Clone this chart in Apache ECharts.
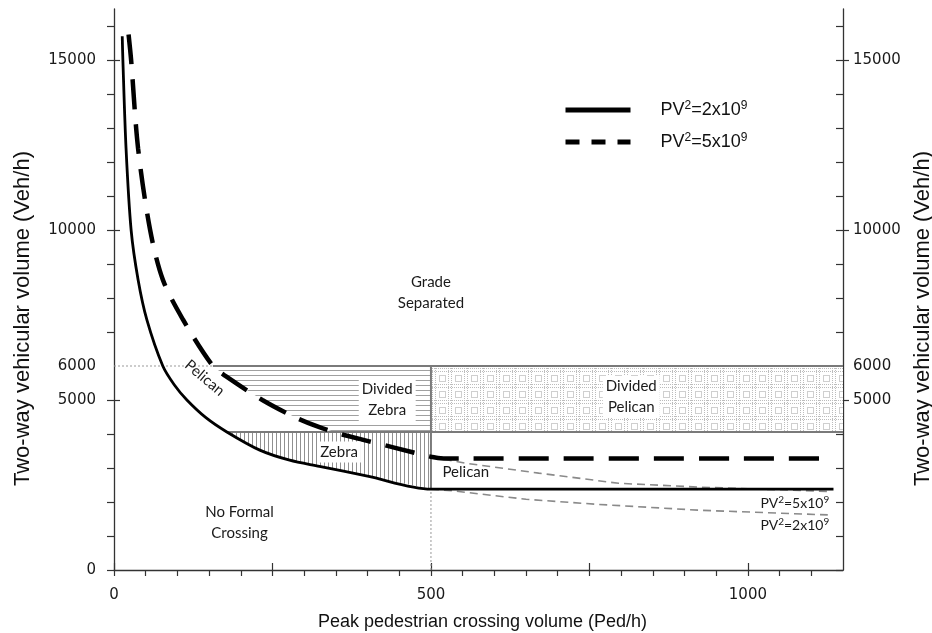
<!DOCTYPE html>
<html>
<head>
<meta charset="utf-8">
<script src="https://cdn.jsdelivr.net/npm/echarts@6/dist/echarts.min.js"></script>
<style>
  html, body { margin: 0; padding: 0; background: #fff; }
  #chart { width: 932px; height: 633px; }
</style>
</head>
<body>
<div id="chart"></div>
<script>
// curve PV^2 = 2x10^9 (solid)
var solidP = [13, 14, 19, 27, 38, 52, 77, 95, 115, 145, 178, 230, 277, 324, 400, 500, 1135];
var solidV = [15700, 15000, 12400, 10000, 8540, 7350, 6000, 5450, 5000, 4480, 4060, 3525, 3230, 3050, 2760, 2380, 2380];

// curve PV^2 = 5x10^9 (thick dashed)
var dashP = [23, 27, 38, 57, 77, 109, 156, 178, 234, 287, 324, 348, 363, 442, 500, 520, 1135];
var dashV = [15750, 15000, 12400, 10000, 8540, 7360, 6000, 5680, 5000, 4480, 4200, 4060, 3970, 3600, 3330, 3280, 3280];

// thin grey continuations beyond 500 ped/h
var cont5P = [500, 555, 670, 796, 921, 1000, 1130];
var cont5V = [3330, 3140, 2850, 2550, 2440, 2390, 2310];
var cont2P = [500, 539, 650, 764, 921, 1126];
var cont2V = [2380, 2320, 2080, 1930, 1760, 1620];

// region limits
var P_MAX = 1150;
var V_MAX = 16500;
var SPLIT_P = 500;
var DIVIDED_V = 6000;
var ZEBRA_V = 4060;

// tick values
var xLabels = [0, 500, 1000];
var xMajor = [0, 250, 500, 750, 1000];
var xMinor = [];
for (var t = 0; t <= 1100; t += 50) xMinor.push(t);
var yLabelsLeft = [0, 5000, 6000, 10000, 15000];
var yLabelsRight = [5000, 6000, 10000, 15000];
var yMajor = [5000, 10000, 15000];
var yMinor = [];
for (var t2 = 0; t2 <= 16000; t2 += 1000) { if (t2 !== 6000) yMinor.push(t2); }

// legend / curve names (rich text: PV{2}=2x10{9})
var names = ['PV2=2x109', 'PV2=5x109'];
var richNames = ['{a|PV}{s|2}{a|=2x10}{s|9}', '{a|PV}{s|2}{a|=5x10}{s|9}'];

// region annotations
var annText = ['Grade\nSeparated', 'Divided\nZebra', 'Divided\nPelican', 'Zebra', 'Pelican', 'Pelican', 'No Formal\nCrossing',
    '{a|PV}{s|2}{a|=5x10}{s|9}', '{a|PV}{s|2}{a|=2x10}{s|9}'];
var annP = [500, 431, 816, 355, 555, 143, 198, 1074, 1074];
var annV = [8150, 5000, 5090, 3470, 2880, 5650, 1400, 1960, 1310];

var annLook = [
    { bg: false, rot: 0 },
    { bg: true, rot: 0 },
    { bg: true, rot: 0 },
    { bg: true, rot: 0 },
    { bg: false, rot: 0 },
    { bg: false, rot: -40 },
    { bg: false, rot: 0 },
    { bg: false, rot: 0, small: true },
    { bg: false, rot: 0, small: true }
];

function pairs(xs, ys) {
    var out = [];
    for (var i = 0; i < xs.length; i++) out.push([xs[i], ys[i]]);
    return out;
}

function makePattern(w, h, draw) {
    var c = document.createElement('canvas');
    c.width = w;
    c.height = h;
    var ctx = c.getContext('2d');
    ctx.fillStyle = '#fff';
    ctx.fillRect(0, 0, w, h);
    draw(ctx);
    return { image: c, repeat: 'repeat' };
}

var hLines = makePattern(4, 5, function (ctx) {
    ctx.fillStyle = '#a0a0a0';
    ctx.fillRect(0, 0, 4, 1);
});
var vLines = makePattern(4, 4, function (ctx) {
    ctx.fillStyle = '#909090';
    ctx.fillRect(0, 0, 1, 4);
});
var gridDots = makePattern(16, 16, function (ctx) {
    ctx.fillStyle = '#bcbcbc';
    for (var i = 0; i < 16; i += 2) {
        ctx.fillRect(i, 0, 1, 1);
        ctx.fillRect(i, 3, 1, 1);
        ctx.fillRect(0, i, 1, 1);
        ctx.fillRect(3, i, 1, 1);
    }
    ctx.strokeStyle = '#cfcfcf';
    ctx.lineWidth = 1;
    ctx.strokeRect(7.5, 7.5, 6, 6);
});

// polygons of the hatched regions, built from the curves
var solidPts = pairs(solidP, solidV);
var dashPts = pairs(dashP, dashV);

var dividedZebra = [[156, DIVIDED_V], [SPLIT_P, DIVIDED_V], [SPLIT_P, ZEBRA_V]];
dashPts.filter(function (d) { return d[0] >= 156 && d[0] <= 348; }).reverse()
    .forEach(function (d) { dividedZebra.push(d); });

var zebra = [[178, ZEBRA_V], [SPLIT_P, ZEBRA_V]];
solidPts.filter(function (d) { return d[0] > 178 && d[0] <= SPLIT_P; }).reverse()
    .forEach(function (d) { zebra.push(d); });

var dividedPelican = [[SPLIT_P, DIVIDED_V], [P_MAX, DIVIDED_V], [P_MAX, ZEBRA_V], [SPLIT_P, ZEBRA_V]];

var regions = [dividedZebra, zebra, dividedPelican];
var regionFill = [hLines, vLines, gridDots];

var axisColor = '#333';
var tickFont = {
    fontFamily: 'DejaVu Sans',
    fontSize: 15,
    color: '#1a1a1a',
    formatter: function (v) { return String(v); }
};

function supRich(size, supSize, family, lh) {
    return {
        a: { fontFamily: family, fontSize: size, lineHeight: lh, verticalAlign: 'middle', color: '#111' },
        s: { fontFamily: family, fontSize: supSize, lineHeight: supSize, verticalAlign: 'top', color: '#111' }
    };
}

function regionSeries(idx) {
    return {
        type: 'custom',
        z: 1,
        silent: true,
        data: [[0, 0]],
        renderItem: function (params, api) {
            var pts = regions[idx].map(function (d) { return api.coord(d); });
            return {
                type: 'polygon',
                shape: { points: pts },
                style: { fill: regionFill[idx], stroke: null }
            };
        }
    };
}

function plainLine(data, color, width, type, z) {
    return {
        type: 'line',
        data: data,
        showSymbol: false,
        symbol: 'none',
        silent: true,
        z: z,
        lineStyle: { color: color, width: width, type: type }
    };
}

var option = {
    backgroundColor: '#fff',
    animation: false,
    grid: { left: 114, right: 89, top: 9, bottom: 63, containLabel: false, outerBoundsMode: 'none' },
    legend: {
        left: 563,
        top: 100,
        padding: 0,
        orient: 'vertical',
        itemWidth: 65,
        itemHeight: 14,
        itemGap: 13,
        formatter: function (name) { return richNames[names.indexOf(name)]; },
        textStyle: {
            fontFamily: 'Liberation Sans',
            fontSize: 18,
            color: '#111',
            padding: [0, 0, 0, 25],
            rich: supRich(18, 12, 'Liberation Sans', 20)
        },
        data: [
            { name: names[0], itemStyle: { opacity: 0 }, lineStyle: { width: 5, type: 'solid', color: '#000' } },
            { name: names[1], itemStyle: { opacity: 0 }, lineStyle: { width: 5, type: [14, 12], color: '#000' } }
        ]
    },
    xAxis: [
        {
            type: 'value',
            min: 0,
            max: P_MAX,
            position: 'bottom',
            name: 'Peak pedestrian crossing volume (Ped/h)',
            nameLocation: 'middle',
            nameGap: 43,
            nameTextStyle: { fontFamily: 'Liberation Sans', fontSize: 18, color: '#111', padding: [0, 0, 0, 8] },
            axisLine: { onZero: false, lineStyle: { color: axisColor, width: 1.3 } },
            axisTick: { show: true, customValues: xMinor, length: 6, lineStyle: { color: axisColor, width: 1.2 } },
            axisLabel: Object.assign({ customValues: xLabels, margin: 18 }, tickFont),
            splitLine: { show: false }
        },
        {
            type: 'value',
            min: 0,
            max: P_MAX,
            position: 'bottom',
            axisLine: { show: false, onZero: false },
            axisTick: { show: true, inside: true, customValues: xMajor, length: 7, lineStyle: { color: axisColor, width: 1.2 } },
            axisLabel: { show: false },
            splitLine: { show: false }
        }
    ],
    yAxis: [
        {
            type: 'value',
            min: 0,
            max: V_MAX,
            position: 'left',
            name: 'Two-way vehicular volume (Veh/h)',
            nameLocation: 'middle',
            nameRotate: 90,
            nameGap: 80,
            nameTextStyle: { fontFamily: 'Liberation Sans', fontSize: 22, color: '#111', padding: [0, 58, 0, 0] },
            axisLine: { show: true, onZero: false, lineStyle: { color: axisColor, width: 1.3 } },
            axisTick: { show: true, customValues: yMinor, length: 7, lineStyle: { color: axisColor, width: 1.2 } },
            axisLabel: Object.assign({ customValues: yLabelsLeft, margin: 18 }, tickFont),
            splitLine: { show: false }
        },
        {
            type: 'value',
            min: 0,
            max: V_MAX,
            position: 'right',
            name: 'Two-way vehicular volume (Veh/h)',
            nameLocation: 'middle',
            nameRotate: 90,
            nameGap: 66,
            nameTextStyle: { fontFamily: 'Liberation Sans', fontSize: 22, color: '#111', padding: [0, 58, 0, 0] },
            axisLine: { show: true, onZero: false, lineStyle: { color: axisColor, width: 1.3 } },
            axisTick: { show: true, customValues: yMajor, length: 6, lineStyle: { color: axisColor, width: 1.2 } },
            axisLabel: Object.assign({ customValues: yLabelsRight, margin: 10 }, tickFont),
            splitLine: { show: false }
        },
        {
            type: 'value',
            min: 0,
            max: V_MAX,
            position: 'left',
            axisLine: { show: false, onZero: false },
            axisTick: { show: true, inside: true, customValues: yMajor, length: 6, lineStyle: { color: axisColor, width: 1.2 } },
            axisLabel: { show: false },
            splitLine: { show: false }
        },
        {
            type: 'value',
            min: 0,
            max: V_MAX,
            position: 'right',
            axisLine: { show: false, onZero: false },
            axisTick: { show: true, inside: true, customValues: yMinor, length: 7, lineStyle: { color: axisColor, width: 1.2 } },
            axisLabel: { show: false },
            splitLine: { show: false }
        }
    ],
    series: [
        regionSeries(0),
        regionSeries(1),
        regionSeries(2),
        // region borders
        plainLine([[156, DIVIDED_V], [P_MAX, DIVIDED_V]], '#7a7a7a', 2, 'solid', 2),
        plainLine([[178, ZEBRA_V], [P_MAX, ZEBRA_V]], '#7a7a7a', 2, 'solid', 2),
        plainLine([[SPLIT_P, 2380], [SPLIT_P, DIVIDED_V]], '#7a7a7a', 2, 'solid', 2),
        plainLine([[0, DIVIDED_V], [156, DIVIDED_V]], '#999', 1, [2, 2], 2),
        plainLine([[SPLIT_P, 0], [SPLIT_P, 2380]], '#999', 1, [2, 2], 2),
        // thin grey continuations
        plainLine(pairs(cont5P, cont5V), '#8a8a8a', 1.6, [8, 5], 3),
        plainLine(pairs(cont2P, cont2V), '#8a8a8a', 1.6, [8, 5], 3),
        {
            name: names[0],
            type: 'line',
            data: solidPts,
            smooth: 0.3,
            showSymbol: false,
            symbol: 'none',
            z: 4,
            itemStyle: { color: '#000' },
            lineStyle: { color: '#000', width: 2.8 }
        },
        {
            name: names[1],
            type: 'line',
            data: dashPts,
            smooth: 0.3,
            showSymbol: false,
            symbol: 'none',
            z: 4,
            itemStyle: { color: '#000' },
            lineStyle: { color: '#000', width: 4.5, type: [30, 15] }
        },
        {
            type: 'custom',
            z: 5,
            silent: true,
            data: annP.map(function (p, i) { return [p, annV[i], i]; }),
            renderItem: function (params, api) {
                var pt = api.coord([api.value(0), api.value(1)]);
                var i = api.value(2);
                var look = annLook[i];
                return {
                    type: 'text',
                    x: pt[0],
                    y: pt[1],
                    rotation: look.rot * Math.PI / 180,
                    style: {
                        text: annText[i],
                        align: 'center',
                        verticalAlign: 'middle',
                        fontFamily: 'Lato',
                        fontSize: 15,
                        lineHeight: 21,
                        fill: '#1a1a1a',
                        rich: look.small ? supRich(14, 10, 'Lato', 17) : undefined,
                        backgroundColor: look.bg ? '#fff' : null,
                        padding: look.bg ? [0, 3] : 0
                    }
                };
            }
        }
    ]
};

var myChart = echarts.init(document.getElementById('chart'), null, { renderer: 'canvas' });
myChart.setOption(option);
</script>
</body>
</html>
